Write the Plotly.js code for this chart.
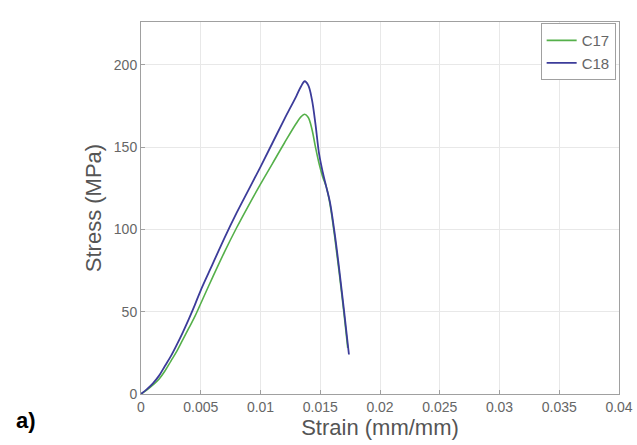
<!DOCTYPE html>
<html>
<head>
<meta charset="utf-8">
<script src="https://cdn.plot.ly/plotly-3.0.1.min.js"></script>
<style>
  html, body { margin: 0; padding: 0; background: #fff; }
  #chart { width: 637px; height: 445px; }
</style>
</head>
<body>
<div id="chart"></div>
<script>
// Stress-strain curves for specimens C17 and C18
const c17Strain = [0, 0.0005, 0.001, 0.0015, 0.002, 0.0025, 0.003, 0.0035, 0.004, 0.0045, 0.005,
  0.006, 0.007, 0.008, 0.009, 0.010, 0.011, 0.012, 0.013, 0.0134, 0.0137, 0.0140, 0.0143,
  0.0146, 0.0149, 0.0152, 0.0155, 0.0158, 0.0162, 0.0166, 0.0170, 0.0173];
const c17Stress = [0, 2.5, 5.5, 9, 14, 20, 26, 33, 40, 47, 55,
  71, 86.5, 101, 114.5, 127.5, 140, 152.5, 164.5, 168.5, 170, 168, 161,
  150, 140, 132, 126, 116, 96, 73, 48, 28];

const c18Strain = [0, 0.0005, 0.001, 0.0015, 0.002, 0.0025, 0.003, 0.0035, 0.004, 0.0045, 0.005,
  0.006, 0.007, 0.008, 0.009, 0.010, 0.011, 0.012, 0.013, 0.0134, 0.0137, 0.0140, 0.0143,
  0.0146, 0.0149, 0.0152, 0.0155, 0.0158, 0.0162, 0.0166, 0.0170, 0.0174];
const c18Stress = [0, 3, 6.5, 11, 17, 23, 30, 37.5, 45.5, 54, 63,
  79, 95, 110, 124, 138, 152.5, 167, 181, 187, 190, 187.5, 179,
  164, 146, 135, 126, 117, 98, 75, 50, 24];

const xTicks = [0, 0.005, 0.01, 0.015, 0.02, 0.025, 0.03, 0.035, 0.04];
const xTickLabels = ['0', '0.005', '0.01', '0.015', '0.02', '0.025', '0.03', '0.035', '0.04'];
const yTicks = [0, 50, 100, 150, 200];
const yTickLabels = ['0', '50', '100', '150', '200'];

const FONT = 'Liberation Sans, Arial, sans-serif';

const traces = [
  { x: c17Strain, y: c17Stress, name: 'C17', type: 'scatter', mode: 'lines',
    line: { color: '#55b04a', width: 1.6, shape: 'spline', smoothing: 1 } },
  { x: c18Strain, y: c18Stress, name: 'C18', type: 'scatter', mode: 'lines',
    line: { color: '#3c3c9a', width: 1.8, shape: 'spline', smoothing: 1 } }
];

const axisCommon = {
  showline: true, linecolor: '#a0a0a0', linewidth: 1, mirror: true,
  showgrid: true, gridcolor: '#e8e8e8', gridwidth: 1,
  zeroline: false, ticks: 'inside', ticklen: 4, tickcolor: '#a0a0a0',
  tickfont: { family: FONT, size: 14, color: '#666' }
};

const layout = {
  width: 637, height: 445,
  paper_bgcolor: '#fff', plot_bgcolor: '#fff',
  margin: { l: 141, r: 18, t: 22, b: 51 },
  showlegend: true,
  legend: {
    x: 0.993, y: 0.997, xanchor: 'right', yanchor: 'top',
    bgcolor: '#fff', bordercolor: '#a0a0a0', borderwidth: 1,
    font: { family: FONT, size: 15, color: '#666' },
    tracegroupgap: 0
  },
  xaxis: Object.assign({}, axisCommon, {
    range: [0, 0.04], tickvals: xTicks, ticktext: xTickLabels,
    title: { text: 'Strain (mm/mm)', standoff: 0,
      font: { family: FONT, size: 22, color: '#555' } }
  }),
  yaxis: Object.assign({}, axisCommon, {
    range: [0, 226], tickvals: yTicks, ticktext: yTickLabels,
    title: { text: 'Stress (MPa)', standoff: 6,
      font: { family: FONT, size: 22, color: '#555' } }
  }),
  annotations: [{
    text: '<b>a)</b>', xref: 'paper', yref: 'paper', x: -0.265, y: -0.07,
    xanchor: 'left', yanchor: 'middle', showarrow: false,
    font: { family: FONT, size: 22, color: '#000' }
  }]
};

Plotly.newPlot('chart', traces, layout, { displayModeBar: false, staticPlot: true });
</script>
</body>
</html>
